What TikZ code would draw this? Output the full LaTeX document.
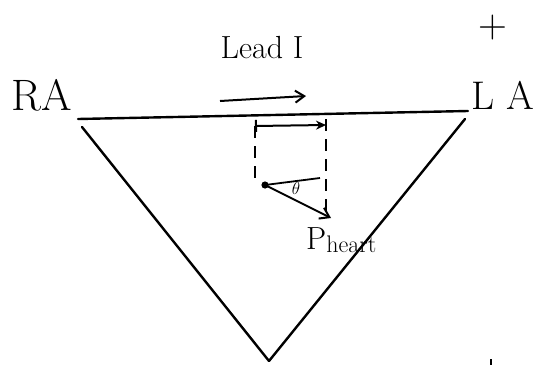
\documentclass[tikz,border=0pt]{standalone}
\usepackage{amsmath}
\usepackage{tikz}
\usetikzlibrary{arrows.meta, positioning, calc}

\begin{document}
\begin{tikzpicture}[
  x=1pt, y=-1pt,
  side/.style={line width=2.4pt, line cap=round},
  lbl/.style={inner sep=0pt, font=\fontsize{44}{46}\selectfont},
  vec/.style={line width=2pt, -{Straight Barb[length=9pt, width=12pt]}},
  proj/.style={line width=1.8pt, dash pattern=on 12pt off 8pt},
]
  \useasboundingbox (0,0) rectangle (533,367);

  % corners of the triangle
  \coordinate (ra) at (78,119);
  \coordinate (la) at (468,111);
  \coordinate (ll) at (269,361);

  \draw[side] (ra) -- (la);
  \draw[side] ($(ra)+(4,8)$) -- (ll);
  \draw[side] ($(la)+(-3,8)$) -- (ll);

  % labels
  \node[lbl] (ratext) at (42,95) {RA};
  \node[lbl, font=\fontsize{40}{42}\selectfont] (latext) at (503,95) {L A};
  \node[lbl, font=\fontsize{40}{42}\selectfont] (plus) at (493,28) {+};
  \node[lbl, font=\fontsize{32}{34}\selectfont] (lead) at (262,48) {Lead I};

  % lead direction
  \coordinate (la1) at (220,101);
  \coordinate (la2) at (306,96);
  \draw[vec] (la1) -- (la2);

  % projection of the heart vector
  \coordinate (p1) at (255,126);
  \coordinate (p2) at (326,125);
  \draw[line width=2pt, {Bar[width=12pt]}-{Stealth[length=10pt, width=9pt]}] (p1) -- (p2);
  \coordinate (h0) at (265,185);
  \coordinate (h1) at (331,218);
  \coordinate (href) at (320,178);
  \draw[proj] (p1) -- (p1 |- h0);
  \draw[proj] ($(p2)+(0,-6)$) -- (p2 |- h1);

  % heart vector
  \fill (h0) circle (3.6pt);
  \draw[line width=1.8pt] (h0) -- (href);
  \draw[vec] (h0) -- (h1);
  \node[lbl, font=\fontsize{19}{20}\selectfont] (theta) at (296,188) {$\theta$};
  \node[lbl, font=\fontsize{32}{34}\selectfont, anchor=west] (pheart) at (306,240)
    {P\raisebox{-3pt}{\fontsize{24}{26}\selectfont heart}};

  \coordinate (m1) at (491,359);
  \draw[line width=1.8pt] (m1) -- ++(0,6);
\end{tikzpicture}
\end{document}
